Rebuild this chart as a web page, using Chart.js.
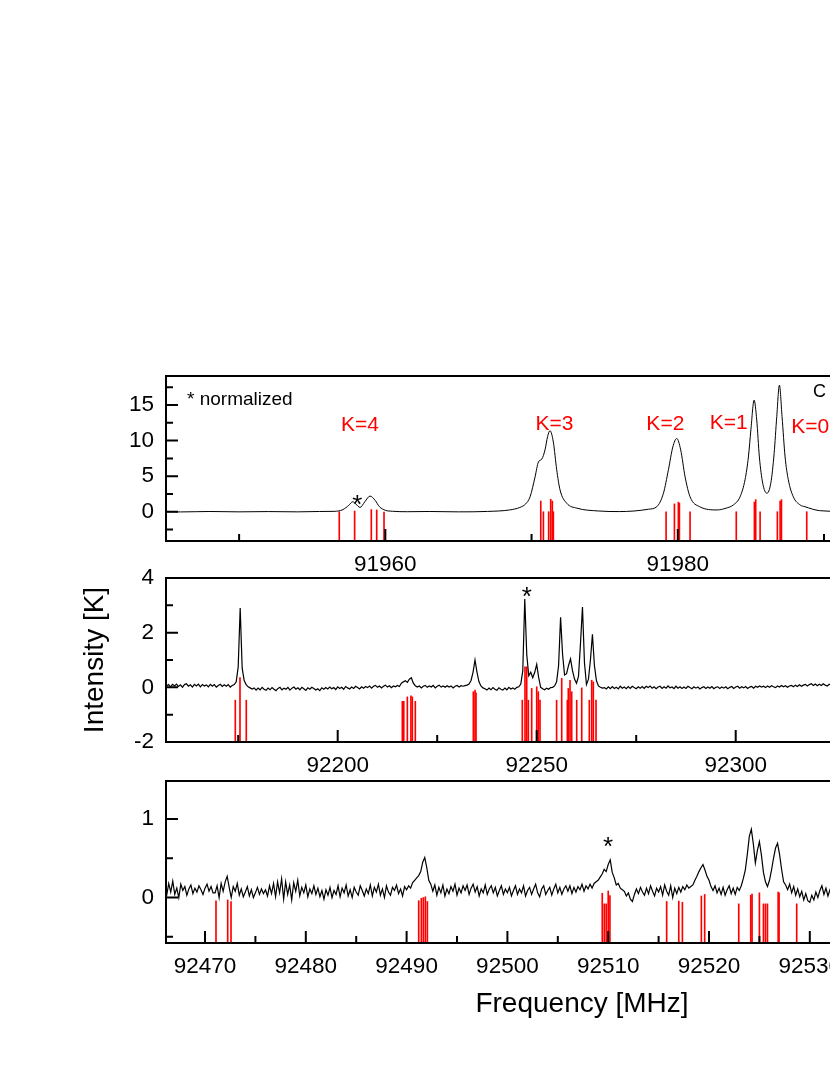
<!DOCTYPE html>
<html><head><meta charset="utf-8">
<script src="https://cdn.jsdelivr.net/npm/chart.js@4.4.1/dist/chart.umd.min.js"></script>
<style>
html,body{margin:0;padding:0;background:#fff;width:830px;height:1075px;overflow:hidden;}
canvas{position:absolute;left:0;}
</style></head><body>
<canvas id="c1" width="1010" height="220" style="top:356px"></canvas>
<canvas id="c2" width="1010" height="219" style="top:558px"></canvas>
<canvas id="c3" width="1010" height="270" style="top:761px"></canvas>
<script>
// ---------------- DATA ----------------
// Panel 1 (smooth spectrum, explicit frequency/intensity pairs)
const topFreq = [91944,91946,91948,91950,91952,91954,91955.5,91956.5,91957.1,91957.5,91957.77,91958.0,91958.27,91958.6,91958.95,91959.3,91959.6,91960.0,91960.5,91961.5,91963,91965,91967,91968.5,91969.2,91969.6,91969.9,91970.24,91970.47,91970.7,91970.92,91971.1,91971.26,91971.49,91971.72,91971.95,91972.4,91973.1,91974.6,91976,91977,91978.0,91978.56,91979.02,91979.36,91979.66,91979.93,91980.2,91980.5,91980.84,91981.5,91982.7,91983.3,91983.8,91984.26,91984.6,91984.83,91985.0,91985.22,91985.4,91985.58,91985.81,91986.09,91986.36,91986.59,91986.77,91986.95,91987.13,91987.34,91987.56,91987.9,91988.37,91988.7,91989.7,91991,91993,91995];
const topInt = [0.02,-0.03,0.03,-0.02,0.02,-0.02,0.03,0.05,0.3,0.9,1.4,1.05,0.6,1.4,2.2,1.6,0.7,0.2,0.06,0.0,0.03,-0.02,0.04,0.25,0.6,1.1,2.1,4.9,7.0,7.4,8.7,10.6,11.4,9.8,5.9,3.05,1.2,0.5,0.1,0.02,0.1,0.35,0.7,2.6,5.9,9.1,10.3,8.7,4.9,2.1,0.7,0.25,0.5,0.95,2.1,4.5,7.7,11.5,15.7,12.9,7.7,4.0,2.6,4.0,8.2,13.4,17.8,13.4,7.7,4.5,2.1,0.95,0.7,0.15,0.05,0.0,0.02];
const topStickFreq = [91956.85,91957.9,91959.04,91959.41,91959.91,91970.63,91970.81,91971.17,91971.31,91971.42,91971.49,91979.2,91979.77,91980.04,91980.11,91980.84,91984.0,91985.24,91985.33,91985.63,91986.81,91987.0,91987.09,91988.82];
const topStickTop = [0.0,0.1,0.3,0.25,-0.05,1.5,0.0,0.0,1.75,1.5,0.0,0.0,1.1,1.35,1.2,0.0,0.0,1.35,1.7,0.0,0.0,1.5,1.7,0.0];
const topXRange = [91945.0, 92001.9];
const topYRange = [-4.12, 19.09];
const topXMajor = [91960, 91980, 92000];
const topXMinor = [91950, 91970, 91990];
const topYMajor = [0, 5, 10, 15];
const topYMinor = [-2.5, 2.5, 7.5, 12.5, 17.5];
const topNoteText = ['* normalized','K=4','K=3','K=2','K=1','K=0','C','*'];
const topNoteX = [91946.44,91958.27,91971.57,91979.15,91983.49,91989.05,91989.25,91958.08];
const topNoteY = [15.0,11.4,11.5,11.5,11.7,11.1,16.17,-0.13];
const topNoteKind = ['note','k','k','k','k','k','mol','star'];

// Panel 2 (channels from midStart every midStep MHz)
const midStart = 92157, midStep = 0.5;
const midInt = [
0.05,0.1,0.02,0.11,0.05,0.12,0.03,0.09,0.0,0.1,0.13,0.04,0.09,0.01,0.11,0.05,0.12,0.02,0.1,0.05,
0.09,0.02,0.11,0.04,0.1,0.01,0.07,0.11,0.03,0.09,0.04,0.1,0.01,0.07,0.1,0.2,0.75,2.9,0.7,0.25,
0.1,0.02,-0.02,-0.06,-0.02,-0.1,-0.03,-0.09,0.0,-0.07,-0.11,-0.03,-0.09,-0.01,-0.07,-0.12,-0.04,0.0,-0.09,-0.03,
-0.07,0.0,-0.1,-0.03,0.01,-0.07,-0.02,-0.09,0.0,-0.05,-0.11,-0.02,-0.07,0.0,-0.04,-0.1,-0.05,-0.12,-0.02,-0.07,
-0.01,-0.06,0.01,-0.05,-0.01,-0.08,0.02,-0.04,0.0,-0.07,0.03,-0.02,-0.06,0.01,-0.04,0.04,-0.01,-0.06,0.02,-0.03,
0.03,-0.01,0.05,-0.03,0.04,0.07,0.0,0.05,-0.02,0.04,0.08,0.01,0.06,-0.01,0.05,0.02,0.07,0.03,0.15,0.2,
0.24,0.18,0.3,0.35,0.15,0.06,0.01,0.05,-0.02,0.04,0.07,0.0,0.05,0.01,0.07,-0.02,0.04,0.08,0.01,0.05,
0.0,0.06,0.01,0.05,-0.02,0.04,0.07,0.01,0.06,0.04,0.06,0.08,0.12,0.25,0.55,1.0,0.55,0.2,0.05,-0.02,
-0.05,-0.1,-0.03,-0.09,-0.01,-0.07,-0.11,-0.02,-0.07,-0.1,-0.03,-0.09,0.0,-0.06,-0.02,-0.07,0.0,0.02,0.12,0.6,
3.23,1.2,0.42,0.55,0.35,0.55,0.84,0.35,0.0,-0.05,-0.09,-0.03,-0.07,-0.01,0.0,0.05,0.2,0.8,2.56,1.2,
0.45,0.5,0.8,1.04,0.6,0.3,0.15,0.4,1.6,2.94,0.9,0.1,0.3,1.0,1.94,0.8,0.25,0.05,0.0,-0.03,
-0.01,-0.06,0.02,-0.05,0.03,-0.04,0.0,-0.06,0.04,-0.03,0.01,-0.05,0.03,-0.04,0.04,-0.01,-0.05,0.02,-0.03,0.03,
-0.04,0.04,-0.01,0.05,-0.03,0.02,-0.05,0.01,0.04,-0.04,0.02,-0.03,0.05,-0.02,0.01,-0.05,0.04,-0.03,0.02,-0.04,
0.01,-0.04,0.04,-0.01,-0.05,0.02,-0.03,0.01,-0.06,-0.01,0.02,-0.04,0.01,-0.03,0.03,-0.05,0.0,0.02,-0.04,0.01,
-0.03,0.02,-0.05,0.0,0.03,-0.04,0.01,0.04,-0.03,0.02,-0.02,0.03,-0.04,0.01,0.03,-0.03,0.04,0.0,0.05,0.01,
0.04,-0.01,0.05,0.0,0.06,0.02,-0.01,0.05,0.01,0.07,0.02,0.06,0.0,0.05,0.07,0.02,0.08,0.03,0.09,0.04,
0.08,0.11,0.05,0.1,0.13,0.07,0.12,0.06,0.11,0.07,0.13,0.08,0.05,0.11,0.07,0.12,0.06,0.1,0.05,0.11,
0.07,0.12,0.06,0.1,0.05,0.11,0.07,0.12,0.06,0.1,0.05,0.11,0.07];
const midStickFreq = [92174.27,92175.45,92177.03,92216.24,92216.6,92217.5,92218.4,92218.75,92219.5,92234.08,92234.5,92234.75,92246.38,92247.06,92247.49,92247.89,92248.74,92250.0,92250.4,92250.83,92255.0,92256.28,92257.7,92257.94,92258.37,92258.79,92260.05,92261.31,92263.22,92263.82,92264.22,92264.9];
const midStickTop = [-0.47,0.36,-0.47,-0.51,-0.51,-0.35,-0.31,-0.35,-0.51,-0.16,-0.1,-0.2,-0.47,0.75,0.75,-0.47,-0.04,0.02,-0.16,-0.47,-0.47,0.33,-0.47,-0.04,0.26,-0.16,-0.47,-0.02,-0.47,0.26,0.2,-0.47];
const midXRange = [92156.86, 92365.9];
const midYRange = [-2, 4];
const midXMajor = [92200, 92250, 92300, 92350];
const midXMinor = [92175, 92225, 92275, 92325];
const midYMajor = [-2, 0, 2, 4];
const midYMinor = [-1, 1, 3];
const midNoteText = ['*'];
const midNoteX = [92247.49];
const midNoteY = [3.03];
const midNoteKind = ['star'];

// Panel 3 (channels from botStart every botStep MHz)
const botStart = 92466.0, botStep = 0.2;
const botInt = [
0.14,0.03,0.18,0.07,0.21,0.04,0.12,0.0,0.17,0.09,0.14,0.03,0.11,0.16,0.05,0.12,0.07,0.15,0.1,0.04,0.12,0.17,0.08,0.14,0.06,
0.06,0.15,0.0,0.18,0.08,0.2,0.27,0.13,0.0,0.14,0.08,0.18,0.03,0.11,0.01,0.07,0.14,0.02,0.1,0.0,0.06,0.13,0.04,0.11,0.05,
0.1,0.02,0.15,0.05,0.18,0.01,0.2,0.06,0.24,-0.02,0.2,0.04,0.16,-0.03,0.19,0.08,0.22,0.02,0.13,0.06,0.16,0.01,0.11,0.05,0.15,
0.04,0.12,0.01,0.09,-0.02,0.1,0.03,0.13,0.0,0.09,0.04,0.15,0.01,0.12,0.06,0.16,0.02,0.1,0.0,0.13,0.07,0.03,0.15,0.09,0.02,
0.11,0.05,0.16,0.02,0.13,0.07,0.17,0.03,0.11,0.0,0.15,0.07,0.03,0.13,0.09,0.16,0.05,0.11,0.02,0.14,0.1,0.15,0.12,0.19,0.22,
0.25,0.28,0.33,0.45,0.51,0.38,0.22,0.17,0.08,0.16,0.03,0.13,0.06,0.16,0.02,0.11,0.05,0.14,0.08,0.17,0.03,0.12,0.06,0.15,0.09,
0.16,0.04,0.12,0.17,0.07,0.14,0.02,0.11,0.06,0.16,0.04,0.11,0.15,0.06,0.13,0.02,0.09,0.15,0.04,0.11,0.06,0.13,0.02,0.09,0.15,
0.04,0.11,0.06,0.15,0.02,0.09,0.13,0.04,0.11,0.17,0.06,0.01,0.11,0.15,0.04,0.09,0.13,0.03,0.11,0.17,0.06,0.13,0.04,0.11,0.15,
0.08,0.15,0.05,0.13,0.07,0.14,0.1,0.17,0.08,0.15,0.11,0.17,0.12,0.18,0.2,0.22,0.26,0.3,0.36,0.33,0.42,0.48,0.32,0.25,0.16,
0.18,0.12,0.1,0.08,0.02,0.06,-0.02,-0.05,0.04,0.11,0.05,0.13,0.07,0.03,0.12,0.05,0.15,0.08,0.02,0.12,0.07,0.14,0.03,0.16,0.08,
0.03,0.15,0.0,0.12,0.05,0.13,0.07,0.14,0.1,0.16,0.12,0.14,0.16,0.22,0.27,0.33,0.38,0.42,0.35,0.27,0.22,0.14,0.09,0.15,0.06,
0.12,0.04,0.13,0.03,0.1,0.15,0.05,0.12,0.04,0.13,0.09,0.15,0.24,0.35,0.55,0.78,0.87,0.68,0.44,0.6,0.71,0.54,0.32,0.2,0.14,
0.22,0.35,0.5,0.63,0.69,0.55,0.36,0.2,0.16,0.1,0.17,0.06,0.14,0.03,0.11,0.01,0.08,-0.03,0.05,-0.04,-0.06,0.03,-0.03,0.07,0.0,
0.09,0.15,0.04,0.12,0.02,0.1,0.16,0.05,0.13,0.04,0.11];
const botStickFreq = [92471.09,92472.25,92472.58,92491.2,92491.46,92491.66,92491.86,92492.06,92509.41,92509.61,92509.8,92510.0,92510.17,92515.8,92517.0,92517.36,92519.24,92519.57,92522.95,92524.14,92524.27,92525.0,92525.4,92525.6,92525.8,92526.86,92526.95,92528.7];
const botStickTop = [-0.04,-0.03,-0.05,-0.04,-0.01,0.0,0.01,-0.05,0.055,-0.08,-0.08,0.084,0.025,-0.05,-0.045,-0.06,0.02,0.04,-0.08,0.03,0.045,0.06,-0.08,-0.08,-0.08,0.07,0.06,-0.08];
const botXRange = [92466.13, 92548.67];
const botYRange = [-0.578, 1.483];
const botXMajor = [92470, 92480, 92490, 92500, 92510, 92520, 92530, 92540];
const botXMinor = [92475, 92485, 92495, 92505, 92515, 92525, 92535, 92545];
const botYMajor = [0, 1];
const botYMinor = [-0.5, 0.5];
const botNoteText = ['*'];
const botNoteX = [92509.98];
const botNoteY = [0.54];
const botNoteKind = ['star'];

const yTitle = 'Intensity [K]';
const xTitle = 'Frequency [MHz]';

// ---------------- STYLE / RENDER ----------------
const FONT = "'Liberation Sans', Arial, Helvetica, sans-serif";
Chart.defaults.font.family = FONT;
Chart.defaults.color = '#000';
const TICK_FONT = 22.5;
const NOTE_STYLE = {
  note: {size: 19, color: '#000', align: 'left'},
  k:    {size: 21, color: '#ff0000', align: 'center'},
  mol:  {size: 18, color: '#000', align: 'left'},
  star: {size: 26, color: '#000', align: 'center'}
};

const panelDecor = {
  id: 'panelDecor',
  afterDraw(chart, args, o) {
    const {ctx, chartArea: a} = chart;
    const xs = chart.scales.x, ys = chart.scales.y;
    ctx.save();
    ctx.strokeStyle = '#000';
    ctx.lineWidth = 2;
    ctx.beginPath();
    const xt = (vals, len) => vals.forEach(v => {
      const px = xs.getPixelForValue(v);
      if (px < a.left - 1 || px > a.right + 1) return;
      ctx.moveTo(px, a.bottom); ctx.lineTo(px, a.bottom - len);
    });
    const yt = (vals, len) => vals.forEach(v => {
      const py = ys.getPixelForValue(v);
      if (py < a.top - 1 || py > a.bottom + 1) return;
      ctx.moveTo(a.left, py); ctx.lineTo(a.left + len, py);
    });
    xt(o.xMajor, 12); xt(o.xMinor, 7); yt(o.yMajor, 12); yt(o.yMinor, 7);
    ctx.stroke();
    ctx.strokeRect(a.left, a.top, a.right - a.left, a.bottom - a.top);
    ctx.textBaseline = 'alphabetic';
    o.noteText.forEach((t, i) => {
      const st = NOTE_STYLE[o.noteKind[i]];
      ctx.font = st.size + 'px ' + FONT;
      ctx.fillStyle = st.color;
      ctx.textAlign = st.align;
      ctx.fillText(t, xs.getPixelForValue(o.noteX[i]), ys.getPixelForValue(o.noteY[i]));
    });
    ctx.fillStyle = '#000';
    if (o.yTitle) {
      ctx.save();
      ctx.font = '28px ' + FONT;
      ctx.translate(103, (a.top + a.bottom) / 2);
      ctx.rotate(-Math.PI / 2);
      ctx.textAlign = 'center';
      ctx.fillText(o.yTitle, 0, 0);
      ctx.restore();
    }
    if (o.xTitle) {
      ctx.font = '28px ' + FONT;
      ctx.textAlign = 'center';
      ctx.fillText(o.xTitle, (a.left + a.right) / 2, a.bottom + 69);
    }
    ctx.restore();
  }
};

function makePanel(id, p) {
  const line = p.freq
    ? p.freq.map((f, i) => ({x: f, y: p.inten[i]}))
    : p.inten.map((v, i) => ({x: p.start + i * p.step, y: v}));
  const sticks = p.stickFreq.map((f, i) => ({x: f, y: p.stickTop[i]}));
  return new Chart(document.getElementById(id), {
    type: 'line',
    data: {datasets: [
      {type: 'line', data: line, borderColor: '#000', borderWidth: p.smooth ? 1 : 1.2, pointRadius: 0,
       tension: 0, cubicInterpolationMode: p.smooth ? 'monotone' : 'default', order: 0},
      {type: 'bar', data: sticks, base: p.yRange[0], backgroundColor: '#ff0000',
       barThickness: 1, borderWidth: 0, order: 1}
    ]},
    options: {
      responsive: false, animation: false, devicePixelRatio: 1,
      layout: {padding: {left: 0, right: 12, top: 20, bottom: 0}},
      plugins: {
        legend: {display: false}, tooltip: {enabled: false},
        panelDecor: {xMajor: p.xMajor, xMinor: p.xMinor, yMajor: p.yMajor, yMinor: p.yMinor,
          noteText: p.noteText, noteX: p.noteX, noteY: p.noteY, noteKind: p.noteKind,
          yTitle: p.yTitle, xTitle: p.xTitle}
      },
      scales: {
        x: {type: 'linear', min: p.xRange[0], max: p.xRange[1], offset: false,
            grid: {display: false, drawTicks: false}, border: {display: false},
            ticks: {autoSkip: false, maxRotation: 0, padding: 10, font: {size: TICK_FONT}, color: '#000',
                    callback: v => String(v)},
            afterBuildTicks: s => { s.ticks = p.xMajor.map(v => ({value: v})); },
            afterFit: s => { s.height = p.xAxisH; s.paddingLeft = 0; s.paddingRight = 0; }},
        y: {type: 'linear', min: p.yRange[0], max: p.yRange[1],
            grid: {display: false, drawTicks: false}, border: {display: false},
            ticks: {padding: 12, font: {size: TICK_FONT}, color: '#000', callback: v => String(v)},
            afterBuildTicks: s => { s.ticks = p.yMajor.map(v => ({value: v})); },
            afterFit: s => { s.width = 166; s.paddingTop = 0; s.paddingBottom = 0; }}
      }
    },
    plugins: [panelDecor]
  });
}

makePanel('c1', {freq: topFreq, inten: topInt, smooth: true, stickFreq: topStickFreq, stickTop: topStickTop,
  xRange: topXRange, yRange: topYRange, xMajor: topXMajor, xMinor: topXMinor, yMajor: topYMajor, yMinor: topYMinor,
  noteText: topNoteText, noteX: topNoteX, noteY: topNoteY, noteKind: topNoteKind, xAxisH: 35});
makePanel('c2', {start: midStart, step: midStep, inten: midInt, stickFreq: midStickFreq, stickTop: midStickTop,
  xRange: midXRange, yRange: midYRange, xMajor: midXMajor, xMinor: midXMinor, yMajor: midYMajor, yMinor: midYMinor,
  noteText: midNoteText, noteX: midNoteX, noteY: midNoteY, noteKind: midNoteKind, xAxisH: 35, yTitle: yTitle});
makePanel('c3', {start: botStart, step: botStep, inten: botInt, stickFreq: botStickFreq, stickTop: botStickTop,
  xRange: botXRange, yRange: botYRange, xMajor: botXMajor, xMinor: botXMinor, yMajor: botYMajor, yMinor: botYMinor,
  noteText: botNoteText, noteX: botNoteX, noteY: botNoteY, noteKind: botNoteKind, xAxisH: 88, xTitle: xTitle});
</script></body></html>
